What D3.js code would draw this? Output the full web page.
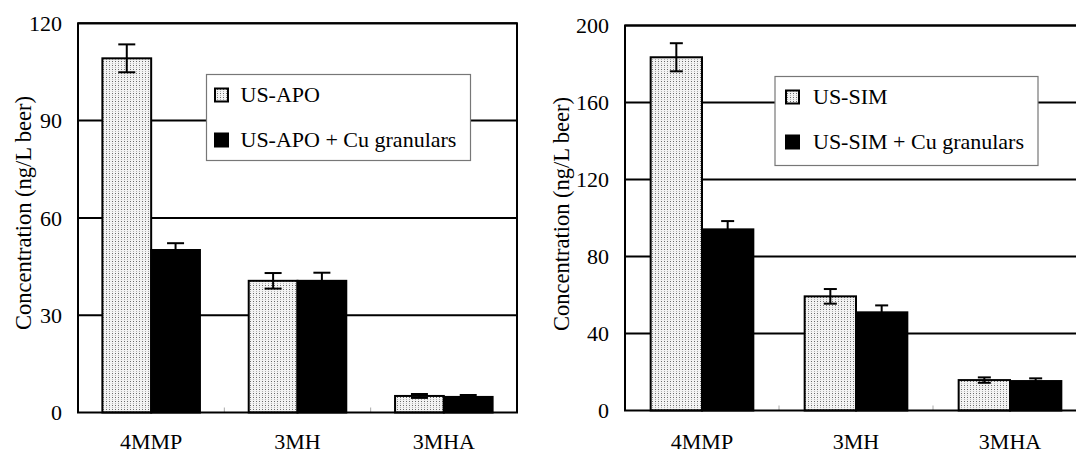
<!DOCTYPE html>
<html>
<head>
<meta charset="utf-8">
<script src="https://cdn.jsdelivr.net/npm/d3@7"></script>
<style>
  body { margin: 0; background: #fff; }
</style>
</head>
<body>
<svg id="chart" width="1076" height="454"></svg>
<script>
// data
var categories = ["4MMP", "3MH", "3MHA"];

var apoValues   = [109.2, 40.6, 5.1];
var apoErrors   = [4.3, 2.4, 0.6];
var apoCuValues = [50.1, 40.6, 4.8];
var apoCuErrors = [2.1, 2.5, 0.6];

var simValues   = [183.5, 59.3, 15.8];
var simErrors   = [7.3, 3.8, 1.4];
var simCuValues = [94.1, 51.0, 15.3];
var simCuErrors = [4.3, 3.6, 1.4];

var leftTicks  = [0, 30, 60, 90, 120];
var rightTicks = [0, 40, 80, 120, 160, 200];

var leftLegend  = ["US-APO", "US-APO + Cu granulars"];
var rightLegend = ["US-SIM", "US-SIM + Cu granulars"];

var yTitle = "Concentration (ng/L beer)";

var FONT = "Times New Roman, Liberation Serif, LiberationSerif, Tinos, Noto Serif, DejaVu Serif, FreeSerif, serif";

var svg = d3.select("#chart").style("font-family", FONT);

// dotted fill for the first series
var defs = svg.append("defs");
var pat = defs.append("pattern")
    .attr("id", "dots")
    .attr("patternUnits", "userSpaceOnUse")
    .attr("width", 3)
    .attr("height", 4);
pat.append("rect").attr("width", 3).attr("height", 4).attr("fill", "#f3f3f3");
pat.append("rect").attr("x", 1).attr("y", 1).attr("width", 1).attr("height", 1).attr("fill", "#6a6a6a");
pat.append("rect").attr("x", 1).attr("y", 3).attr("width", 1).attr("height", 1).attr("fill", "#b0b0b0");

// #####################################################
// One panel
//
function drawPanel(p) {
  var g = svg.append("g");

  var x = d3.scaleBand().domain(categories).range([p.left, p.right]);
  var xs = d3.scaleBand().domain([0, 1]).range([0, x.bandwidth()])
      .paddingInner(0).paddingOuter(0.5);
  var y = d3.scaleLinear().domain([0, p.max]).range([p.bottom, p.top]);

  // gridlines
  g.selectAll("line.grid")
    .data(p.ticks.filter(function(d) { return d > 0; }))
    .enter().append("line")
      .attr("class", "grid")
      .attr("x1", p.left).attr("x2", p.frameRight)
      .attr("y1", function(d) { return y(d); })
      .attr("y2", function(d) { return y(d); })
      .attr("stroke", "#000")
      .attr("stroke-width", 2);

  // small ticks between categories
  g.selectAll("line.xt")
    .data(categories.slice(1))
    .enter().append("line")
      .attr("x1", function(d) { return x(d); })
      .attr("x2", function(d) { return x(d); })
      .attr("y1", p.bottom).attr("y2", p.bottom - 5)
      .attr("stroke", "#aaa")
      .attr("stroke-width", 1);

  var series = [
    {vals: p.values[0], errs: p.errors[0], fill: "url(#dots)"},
    {vals: p.values[1], errs: p.errors[1], fill: "#000"}
  ];

  series.forEach(function(s, si) {
    g.selectAll("rect.s" + si)
      .data(categories)
      .enter().append("rect")
        .attr("x", function(d) { return x(d) + xs(si); })
        .attr("width", xs.bandwidth())
        .attr("y", function(d, i) { return y(s.vals[i]); })
        .attr("height", function(d, i) { return p.bottom - y(s.vals[i]); })
        .attr("fill", s.fill)
        .attr("stroke", "#000")
        .attr("stroke-width", 2);
  });

  // error bars on top
  series.forEach(function(s, si) {
    categories.forEach(function(c, i) {
      var cx = x(c) + xs(si) + xs.bandwidth() / 2;
      var hi = y(s.vals[i] + s.errs[i]);
      var lo = y(s.vals[i] - s.errs[i]);
      var eb = g.append("g").attr("stroke", "#000").attr("stroke-width", 2);
      eb.append("line").attr("x1", cx).attr("x2", cx).attr("y1", hi).attr("y2", lo);
      eb.append("line").attr("x1", cx - p.cap / 2).attr("x2", cx + p.cap / 2).attr("y1", hi).attr("y2", hi);
      eb.append("line").attr("x1", cx - p.cap / 2).attr("x2", cx + p.cap / 2).attr("y1", lo).attr("y2", lo);
    });
  });

  // frame
  g.append("rect")
    .attr("x", p.left).attr("y", p.top)
    .attr("width", p.frameRight - p.left)
    .attr("height", p.bottom - p.top)
    .attr("fill", "none")
    .attr("stroke", "#000")
    .attr("stroke-width", 2);

  // y tick labels
  g.selectAll("text.yt")
    .data(p.ticks)
    .enter().append("text")
      .attr("x", p.left - 16)
      .attr("y", function(d) { return y(d); })
      .attr("dy", "0.35em")
      .attr("text-anchor", "end")
      .style("font-size", "22px")
      .text(function(d) { return d; });

  // x labels
  g.selectAll("text.xl")
    .data(categories)
    .enter().append("text")
      .attr("x", function(d) { return x(d) + x.bandwidth() / 2; })
      .attr("y", 449)
      .attr("text-anchor", "middle")
      .style("font-size", "22px")
      .text(function(d) { return d; });

  // y title
  g.append("text")
    .attr("transform", "translate(" + p.titleX + "," + p.titleY + ") rotate(-90)")
    .attr("text-anchor", "middle")
    .attr("dy", "0.35em")
    .style("font-size", "22.5px")
    .text(yTitle);

  // legend
  var lg = g.append("g");
  lg.append("rect")
    .attr("x", p.legend.x).attr("y", p.legend.y)
    .attr("width", p.legend.w).attr("height", p.legend.h)
    .attr("fill", "#fff")
    .attr("stroke", "#777")
    .attr("stroke-width", 1.2);

  p.labels.forEach(function(lab, i) {
    var yy = p.legend.y + p.legend.rowY[i];
    lg.append("rect")
      .attr("x", p.legend.x + p.legend.sw)
      .attr("y", yy - 13)
      .attr("width", 13).attr("height", 13)
      .attr("fill", series[i].fill)
      .attr("stroke", "#000")
      .attr("stroke-width", 2);
    lg.append("text")
      .attr("x", p.legend.x + p.legend.tx)
      .attr("y", yy)
      .style("font-size", "22px")
      .text(lab);
  });
}

drawPanel({
  left: 78, right: 517, frameRight: 517, top: 23.3, bottom: 412.5,
  max: 120, ticks: leftTicks, cap: 17,
  values: [apoValues, apoCuValues], errors: [apoErrors, apoCuErrors],
  labels: leftLegend,
  titleX: 23, titleY: 213,
  legend: {x: 206.5, y: 74.5, w: 264, h: 86, sw: 8.5, tx: 34, rowY: [27, 72]}
});

drawPanel({
  left: 625, right: 1087, frameRight: 1090, top: 25.5, bottom: 410.5,
  max: 200, ticks: rightTicks, cap: 13,
  values: [simValues, simCuValues], errors: [simErrors, simCuErrors],
  labels: rightLegend,
  titleX: 561, titleY: 214,
  legend: {x: 775, y: 76.5, w: 263, h: 89, sw: 11, tx: 38, rowY: [27, 72]}
});
</script>
</body>
</html>
